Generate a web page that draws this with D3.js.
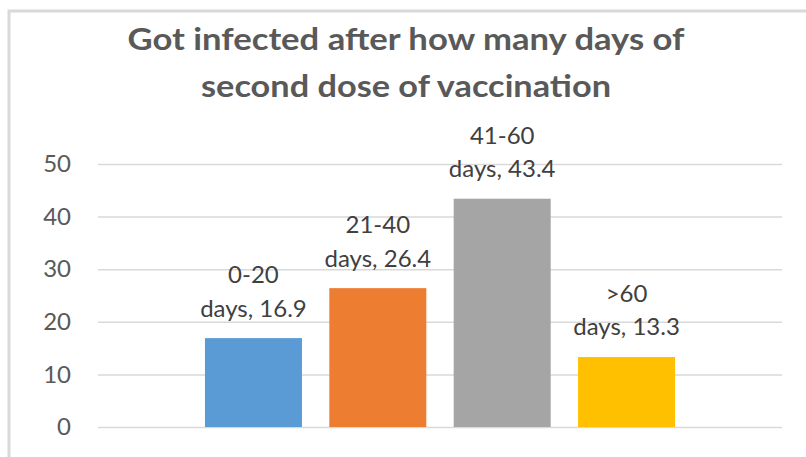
<!DOCTYPE html>
<html>
<head>
<meta charset="utf-8">
<script src="https://cdn.jsdelivr.net/npm/d3@7"></script>
<style>
  html, body { margin: 0; padding: 0; background: #fff; }
  svg { display: block; font-family: Lato, "Open Sans", sans-serif; }
</style>
</head>
<body>
<div id="chart"></div>
<script>
// chart data
const categories = ['0-20 days', '21-40 days', '41-60 days', '>60 days'];
const values = [16.9, 26.4, 43.4, 13.3];
const labelTop = ['0-20', '21-40', '41-60', '>60'];
const labelBottom = ['days, 16.9', 'days, 26.4', 'days, 43.4', 'days, 13.3'];
const barColors = ['#5B9BD5', '#ED7D31', '#A5A5A5', '#FFC000'];
const yTicks = [0, 10, 20, 30, 40, 50];
const titleLines = ['Got infected after how many days of', 'second dose of vaccination'];

const width = 806;
const height = 457;
const plot = { left: 98, right: 782, top: 164, bottom: 427 };

const svg = d3.select('#chart')
  .append('svg')
  .attr('width', width)
  .attr('height', height);

// outer frame (only top and left edges are visible)
svg.append('rect')
  .attr('x', 9)
  .attr('y', 11)
  .attr('width', 820)
  .attr('height', 470)
  .attr('fill', 'none')
  .attr('stroke', '#d9d9d9')
  .attr('stroke-width', 3);

// title
const titleWidths = [557, 410];
svg.selectAll('.title')
  .data(titleLines)
  .enter()
  .append('text')
  .attr('class', 'title')
  .attr('x', 406)
  .attr('y', (d, i) => 50 + i * 47)
  .attr('text-anchor', 'middle')
  .attr('font-size', 30)
  .attr('font-weight', 'bold')
  .attr('fill', '#595959')
  .attr('textLength', (d, i) => titleWidths[i])
  .attr('lengthAdjust', 'spacingAndGlyphs')
  .text(d => d);

const x = d3.scaleBand()
  .domain(categories)
  .range([plot.left, plot.right])
  .paddingInner(0.22)
  .paddingOuter(0.86);

const y = d3.scaleLinear()
  .domain([0, 50])
  .range([plot.bottom, plot.top]);

// gridlines
svg.append('g')
  .attr('class', 'grid')
  .attr('transform', `translate(${plot.left},0)`)
  .call(d3.axisLeft(y).tickValues(yTicks).tickSize(-(plot.right - plot.left)).tickFormat(''))
  .call(g => g.select('.domain').remove())
  .call(g => g.selectAll('line').attr('stroke', '#d9d9d9').attr('stroke-width', 1.5));

// y axis labels
svg.append('g')
  .attr('class', 'axis y-axis')
  .attr('transform', `translate(${plot.left},0)`)
  .call(d3.axisLeft(y).tickValues(yTicks).tickSize(0).tickPadding(27))
  .call(g => g.select('.domain').remove())
  .call(g => g.selectAll('text')
    .attr('font-family', 'Lato, "Open Sans", sans-serif')
    .attr('font-size', 24)
    .attr('fill', '#595959'));

// bars
svg.selectAll('.bar')
  .data(values)
  .enter()
  .append('rect')
  .attr('class', 'bar')
  .attr('x', (d, i) => x(categories[i]))
  .attr('y', d => y(d))
  .attr('width', x.bandwidth())
  .attr('height', d => y(0) - y(d))
  .attr('fill', (d, i) => barColors[i]);

// data labels
const labels = svg.selectAll('.label')
  .data(values)
  .enter()
  .append('g')
  .attr('class', 'label')
  .attr('transform', (d, i) => `translate(${x(categories[i]) + x.bandwidth() / 2},${y(d) - 21.6})`);

labels.append('text')
  .attr('y', -33.4)
  .attr('text-anchor', 'middle')
  .attr('font-size', 24)
  .attr('fill', '#404040')
  .text((d, i) => labelTop[i]);

labels.append('text')
  .attr('y', 0)
  .attr('text-anchor', 'middle')
  .attr('font-size', 24)
  .attr('fill', '#404040')
  .text((d, i) => labelBottom[i]);
</script>
</body>
</html>
